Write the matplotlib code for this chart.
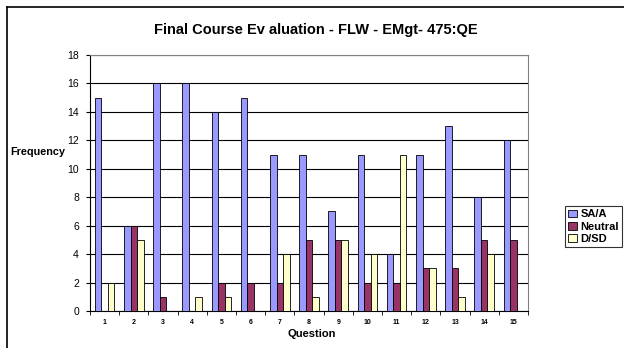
import matplotlib.pyplot as plt
import numpy as np

# ===== DATA =====
questions = [str(i) for i in range(1, 16)]
sa_a = [15, 6, 16, 16, 14, 15, 11, 11, 7, 11, 4, 11, 13, 8, 12]
neutral = [0, 6, 1, 0, 2, 2, 2, 5, 5, 2, 2, 3, 3, 5, 5]
d_sd = [2, 5, 0, 1, 1, 0, 4, 1, 5, 4, 11, 3, 1, 4, 0]
series_names = ["SA/A", "Neutral", "D/SD"]
colors = ["#9999FF", "#993366", "#FFFFCC"]

plt.rcParams['font.family'] = ['Liberation Sans', 'DejaVu Sans']

fig = plt.figure(figsize=(6.24, 3.48), dpi=100)
ax = fig.add_axes([90 / 624, 1 - 311 / 348, (528 - 90) / 624, (311 - 55) / 348])

# outer chart frame (left and top edges visible)
W, H = 624, 348
fig.add_artist(plt.Line2D([7 / W, 7 / W], [0, 1 - 7 / H], color="black", lw=1.2))
fig.add_artist(plt.Line2D([7 / W, 1], [1 - 7 / H, 1 - 7 / H], color="black", lw=1.2))

x = np.arange(len(questions))
w = 1 / 4.5
for i, (vals, name, c) in enumerate(zip([sa_a, neutral, d_sd], series_names, colors)):
    ax.bar(x + (i - 1) * w, vals, width=w, color=c, edgecolor="black",
           linewidth=0.6, label=name, zorder=3)

ax.set_xlim(-0.5, len(questions) - 0.5)
ax.set_ylim(0, 18)
ax.set_yticks(range(0, 19, 2))
ax.yaxis.grid(True, color="black", linewidth=0.8, zorder=0)
ax.set_axisbelow(True)

ax.set_xticks(x)
ax.set_xticklabels(questions, fontsize=5, fontweight="bold")
ax.set_xticks(np.arange(-0.5, len(questions), 1), minor=True)
ax.tick_params(axis="x", which="major", length=0, pad=6)
ax.tick_params(axis="x", which="minor", length=3, direction="out", color="black")
ax.tick_params(axis="y", labelsize=7.5, length=3, direction="out", pad=5)

for side in ["top", "right"]:
    ax.spines[side].set_color("#808080")
for side in ["left", "bottom"]:
    ax.spines[side].set_color("black")

fig.text(316 / W, 1 - 30 / H, "Final Course Ev aluation - FLW - EMgt- 475:QE",
         ha="center", va="center", fontsize=10.5, fontweight="bold")
fig.text(38 / W, 1 - 152 / H, "Frequency", ha="center", va="center",
         fontsize=7.8, fontweight="bold")
fig.text(312 / W, 1 - 334 / H, "Question", ha="center", va="center",
         fontsize=8, fontweight="bold")

leg = fig.legend(loc="upper left", bbox_to_anchor=(565 / W, 1 - 206 / H),
                 fontsize=8, frameon=True, fancybox=False, handlelength=0.8,
                 handleheight=0.7, handletextpad=0.3, borderpad=0.3,
                 labelspacing=0.2, borderaxespad=0)
leg.get_frame().set_edgecolor("black")
leg.get_frame().set_linewidth(0.8)
for t in leg.get_texts():
    t.set_fontweight("bold")

plt.savefig("out.png", dpi=100)
